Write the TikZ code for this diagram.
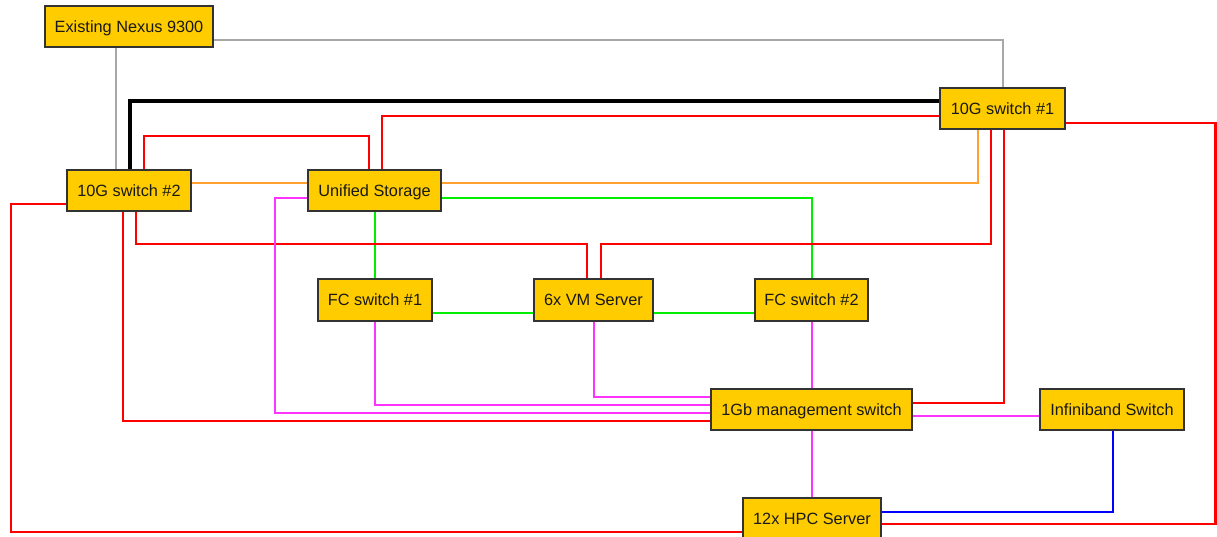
\documentclass[tikz,border=0pt]{standalone}
\usepackage{fontspec}
\setmainfont{Liberation Sans}
\usetikzlibrary{backgrounds}
\definecolor{nodefill}{HTML}{FFCC00}
\definecolor{nodeborder}{HTML}{333333}
\definecolor{cred}{HTML}{FF0000}
\definecolor{cgreen}{HTML}{00EE00}
\definecolor{corange}{HTML}{FFA030}
\definecolor{cmag}{HTML}{FF33FF}
\definecolor{cgray}{HTML}{A8A8A8}
\definecolor{cblue}{HTML}{0000FF}
\begin{document}
\begin{tikzpicture}[x=1pt,y=-1pt,
  box/.style={draw=nodeborder,line width=1.3pt,fill=nodefill,inner sep=0pt,
    minimum height=41pt,font=\fontsize{16.3}{19}\selectfont,text=black!90,
    text height=11.7pt,text depth=0pt},
  rl/.style={draw=cred,line width=2.5pt},
  gl/.style={draw=cgreen,line width=2.4pt},
  ol/.style={draw=corange,line width=2.3pt},
  ml/.style={draw=cmag,line width=1.4pt},
  gy/.style={draw=cgray,line width=2.2pt},
  kl/.style={draw=black,line width=4.5pt},
  bl/.style={draw=cblue,line width=2.8pt}]
\useasboundingbox (0,0) rectangle (1217,537);

\node[box,minimum width=168pt] (nexus) at (129,26.5) {Existing Nexus 9300};
\node[box,minimum width=124pt] (sw2) at (129,190.5) {10G switch \#2};
\node[box,minimum width=133pt] (us) at (374.5,190.5) {Unified Storage};
\node[box,minimum width=125pt] (sw1) at (1002.5,108.5) {10G switch \#1};
\node[box,minimum width=114pt,minimum height=42pt] (fc1) at (375,300) {FC switch \#1};
\node[box,minimum width=119pt,minimum height=42pt] (vm) at (593.5,300) {6x VM Server};
\node[box,minimum width=113pt,minimum height=42pt] (fc2) at (811.5,300) {FC switch \#2};
\node[box,minimum width=201pt] (mgmt) at (811.5,409.5) {1Gb management switch};
\node[box,minimum width=144pt] (ib) at (1112,409.5) {Infiniband Switch};
\node[box,minimum width=138pt] (hpc) at (812,518.5) {12x HPC Server};

\begin{scope}[on background layer]
\draw[gy] (nexus.east |- 0,40) -- (1003,40) -- (sw1.north -| 1003,0);
\draw[gy] (nexus.south -| 116,0) -- (sw2.north -| 116,0);
\draw[kl] (sw2.north -| 130,0) -- (130,101) -- (sw1.west |- 0,101);
\draw[rl] (sw2.north -| 144,0) -- (144,136) -- (369,136) -- (us.north -| 369,0);
\draw[rl] (us.north -| 382,0) -- (382,116) -- (sw1.west |- 0,116);
\draw[ol] (sw2.east |- 0,183) -- (us.west |- 0,183);
\draw[ol] (us.east |- 0,183) -- (978,183) -- (sw1.south -| 978,0);
\draw[gl] (us.east |- 0,198) -- (812,198) -- (fc2.north -| 812,0);
\draw[gl] (us.south -| 375,0) -- (fc1.north -| 375,0);
\draw[gl] (fc1.east |- 0,313) -- (vm.west |- 0,313);
\draw[gl] (vm.east |- 0,313) -- (fc2.west |- 0,313);
\draw[rl] (sw2.south -| 136,0) -- (136,244) -- (587,244) -- (vm.north -| 587,0);
\draw[rl] (vm.north -| 601,0) -- (601,244) -- (991,244) -- (sw1.south -| 991,0);
\draw[rl] (sw1.south -| 1004,0) -- (1004,403) -- (mgmt.east |- 0,403);
\draw[rl] (sw1.east |- 0,123) -- (1215.5,123) -- (1215.5,524) -- (hpc.east |- 0,524);
\draw[rl] (sw2.west |- 0,204) -- (11,204) -- (11,532) -- (hpc.west |- 0,532);
\draw[rl] (sw2.south -| 123,0) -- (123,421) -- (mgmt.west |- 0,421);
\draw[ml] (us.west |- 0,198) -- (275,198) -- (275,413) -- (mgmt.west |- 0,413);
\draw[ml] (fc1.south -| 375,0) -- (375,405) -- (mgmt.west |- 0,405);
\draw[ml] (vm.south -| 594,0) -- (594,397) -- (mgmt.west |- 0,397);
\draw[ml] (fc2.south -| 812,0) -- (mgmt.north -| 812,0);
\draw[ml] (mgmt.south -| 812,0) -- (hpc.north -| 812,0);
\draw[ml] (mgmt.east |- 0,416) -- (ib.west |- 0,416);
\draw[bl] (ib.south -| 1113,0) -- (1113,512) -- (hpc.east |- 0,512);
\end{scope}
\end{tikzpicture}
\end{document}
